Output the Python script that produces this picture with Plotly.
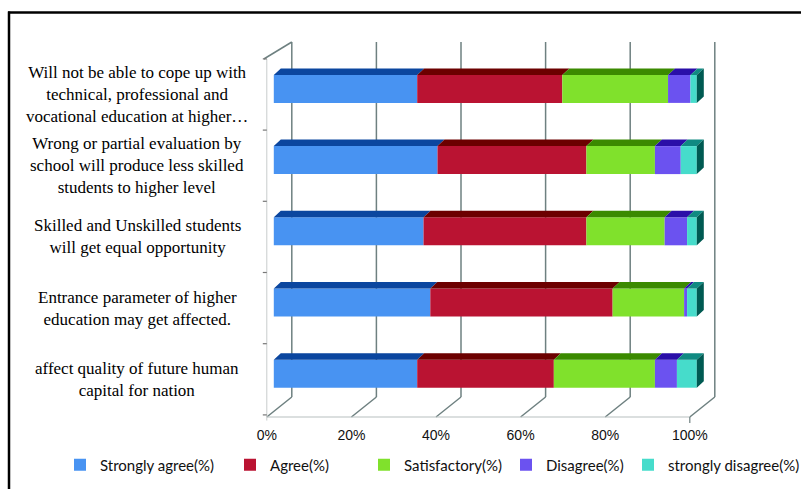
import plotly.graph_objects as go

# ---------------- data (top row of the chart first) ----------------
categories = [
    "Will not be able to cope up with<br>technical, professional and<br>vocational education at higher…",
    "Wrong or partial evaluation by<br>school will produce less skilled<br>students to higher level",
    "Skilled and Unskilled students<br>will get equal opportunity",
    "Entrance parameter of higher<br>education may get affected.",
    "affect quality of future human<br>capital for nation",
]
series_names = ["Strongly agree(%)", "Agree(%)", "Satisfactory(%)", "Disagree(%)", "strongly disagree(%)"]
strongly_agree = [33.9, 38.7, 35.4, 37.0, 33.9]
agree = [34.3, 35.2, 38.5, 43.1, 32.3]
satisfactory = [25.0, 16.2, 18.5, 16.9, 23.9]
disagree = [5.3, 6.1, 5.3, 0.7, 5.2]
strongly_disagree = [1.5, 3.8, 2.3, 2.3, 4.7]
x_ticks = [0, 20, 40, 60, 80, 100]
x_tick_labels = ["0%", "20%", "40%", "60%", "80%", "100%"]

# ---------------- styles ----------------
front_colors = ["#4893F2", "#BA1332", "#80E12C", "#6B52F0", "#46DCCB"]
top_colors = ["#0B469F", "#6C0000", "#3B8A00", "#2A0FA8", "#108A82"]
side_color = "#005A52"
grid_color = "#6E8080"
floor_color = "#B8C0C0"
legend_slot_widths = [125, 89, 97, 77, None]   # px reserved for each legend entry's text

FIG_W, FIG_H = 801, 489
L, R, T, B = 258, 801, 30, 425
PW, PH = R - L, B - T
SX, X0PX = 4.23, 266.8      # px per % and pixel of 0 % on the front floor edge
SY, Y0PX = 71.2, 379.3      # px per category and pixel of the bottom category centre

x_range = [(L - X0PX) / SX, (R - X0PX) / SX]
y_range = [(Y0PX - B) / SY, (Y0PX - T) / SY]

DX, DY = 25 / SX, 20 / SY          # full depth of the 3-D box
BFX, BFY = 7 / SX, 5.6 / SY        # bar front face offset
BDX, BDY = 7 / SX, 6.5 / SY        # bar depth
BAR_H = 28 / SY
Y_FLOOR = (Y0PX - 417) / SY
Y_TOP = (Y0PX - 59) / SY
Y_TOP_BACK = (Y0PX - 42) / SY


def px2paper_x(px):
    return (px - L) / PW


def px2paper_y(py):
    return (B - py) / PH


series = [strongly_agree, agree, satisfactory, disagree, strongly_disagree]
n = len(categories)
y_idx = [n - 1 - i for i in range(n)]

fig = go.Figure()

starts = []
cum = [0.0] * n
for vals in series:
    starts.append(list(cum))
    cum = [c + v for c, v in zip(cum, vals)]

# front faces (real bars)
for s, vals in enumerate(series):
    kw = {}
    if legend_slot_widths[s]:
        kw["legendwidth"] = legend_slot_widths[s]
    fig.add_trace(go.Bar(
        orientation="h",
        y=[yy + BFY for yy in y_idx],
        x=vals,
        base=[st + BFX for st in starts[s]],
        width=BAR_H,
        marker=dict(color=front_colors[s], line=dict(width=0)),
        name=series_names[s],
        hoverinfo="skip",
        **kw,
    ))

# top faces
for s, vals in enumerate(series):
    xs, ys = [], []
    for i in range(n):
        x0 = starts[s][i] + BFX
        x1 = x0 + vals[i]
        yt = y_idx[i] + BFY + BAR_H / 2
        xs += [x0, x1, x1 + BDX, x0 + BDX, x0, None]
        ys += [yt, yt, yt + BDY, yt + BDY, yt, None]
    fig.add_trace(go.Scatter(x=xs, y=ys, mode="lines", fill="toself",
                             fillcolor=top_colors[s], line=dict(width=0, color=top_colors[s]),
                             showlegend=False, hoverinfo="skip"))

# right side faces of the last segment
xs, ys = [], []
for i in range(n):
    xe = cum[i] + BFX
    yb = y_idx[i] + BFY - BAR_H / 2
    yt = y_idx[i] + BFY + BAR_H / 2
    xs += [xe, xe + BDX, xe + BDX, xe, xe, None]
    ys += [yb, yb + BDY, yt + BDY, yt, yb, None]
fig.add_trace(go.Scatter(x=xs, y=ys, mode="lines", fill="toself", fillcolor=side_color,
                         line=dict(width=0, color=side_color), showlegend=False, hoverinfo="skip"))

shapes = []
for t in x_ticks:
    shapes.append(dict(type="line", xref="x", yref="y", x0=t + DX, x1=t + DX,
                       y0=Y_FLOOR + DY, y1=Y_TOP_BACK, line=dict(color=grid_color, width=1.5), layer="below"))
    shapes.append(dict(type="line", xref="x", yref="y", x0=t, x1=t + DX,
                       y0=Y_FLOOR, y1=Y_FLOOR + DY, line=dict(color=grid_color, width=1.5), layer="below"))
shapes.append(dict(type="line", xref="x", yref="y", x0=0, x1=x_ticks[-1], y0=Y_FLOOR, y1=Y_FLOOR,
                   line=dict(color=floor_color, width=1.2), layer="below"))
shapes.append(dict(type="line", xref="x", yref="y", x0=0, x1=0, y0=Y_FLOOR - 0.05, y1=Y_TOP,
                   line=dict(color="#C8CCCC", width=1), layer="below"))
shapes.append(dict(type="line", xref="x", yref="y", x0=-3 / SX, x1=DX, y0=Y_TOP, y1=Y_TOP_BACK,
                   line=dict(color=grid_color, width=1.5), layer="below"))
shapes.append(dict(type="line", xref="x", yref="y", x0=x_ticks[-1], x1=x_ticks[-1],
                   y0=Y_FLOOR, y1=Y_FLOOR - 6 / SY, line=dict(color=grid_color, width=1.2), layer="below"))
for k in range(n + 1):
    shapes.append(dict(type="line", xref="x", yref="y", x0=-4 / SX, x1=0, y0=k - 0.5, y1=k - 0.5,
                       line=dict(color="#777777", width=1.2), layer="below"))
# outer frame (top and left)
shapes.append(dict(type="line", xref="paper", yref="paper", x0=px2paper_x(8), x1=px2paper_x(805),
                   y0=px2paper_y(12.5), y1=px2paper_y(12.5), line=dict(color="black", width=2.5)))
shapes.append(dict(type="line", xref="paper", yref="paper", x0=px2paper_x(9), x1=px2paper_x(9),
                   y0=px2paper_y(11.5), y1=px2paper_y(495), line=dict(color="black", width=2.5)))

annotations = []
for i, cat in enumerate(categories):
    annotations.append(dict(text=cat, xref="paper", yref="y", x=px2paper_x(137), y=y_idx[i],
                            xanchor="center", yanchor="middle", align="center", showarrow=False,
                            font=dict(family="Liberation Serif, Times New Roman, serif", size=17, color="black")))

fig.update_layout(
    width=FIG_W, height=FIG_H,
    margin=dict(l=L, r=FIG_W - R, t=T, b=FIG_H - B, pad=0, autoexpand=False),
    paper_bgcolor="white", plot_bgcolor="white",
    barmode="overlay",
    shapes=shapes, annotations=annotations,
    xaxis=dict(range=x_range, tickvals=x_ticks, ticktext=x_tick_labels, showgrid=False,
               zeroline=False, showline=False, ticks="", fixedrange=True,
               tickfont=dict(family="Liberation Sans, Arial, sans-serif", size=14, color="#111")),
    yaxis=dict(range=y_range, showticklabels=False, showgrid=False, zeroline=False,
               showline=False, ticks="", fixedrange=True),
    legend=dict(orientation="h", xref="paper", yref="paper", x=px2paper_x(60), y=px2paper_y(465),
                xanchor="left", yanchor="middle",
                font=dict(family="Lato, Liberation Sans, Arial, sans-serif", size=15, color="#111"),
                traceorder="normal", itemwidth=30, bgcolor="rgba(0,0,0,0)"),
    showlegend=True,
)

fig.write_html("out.html")
